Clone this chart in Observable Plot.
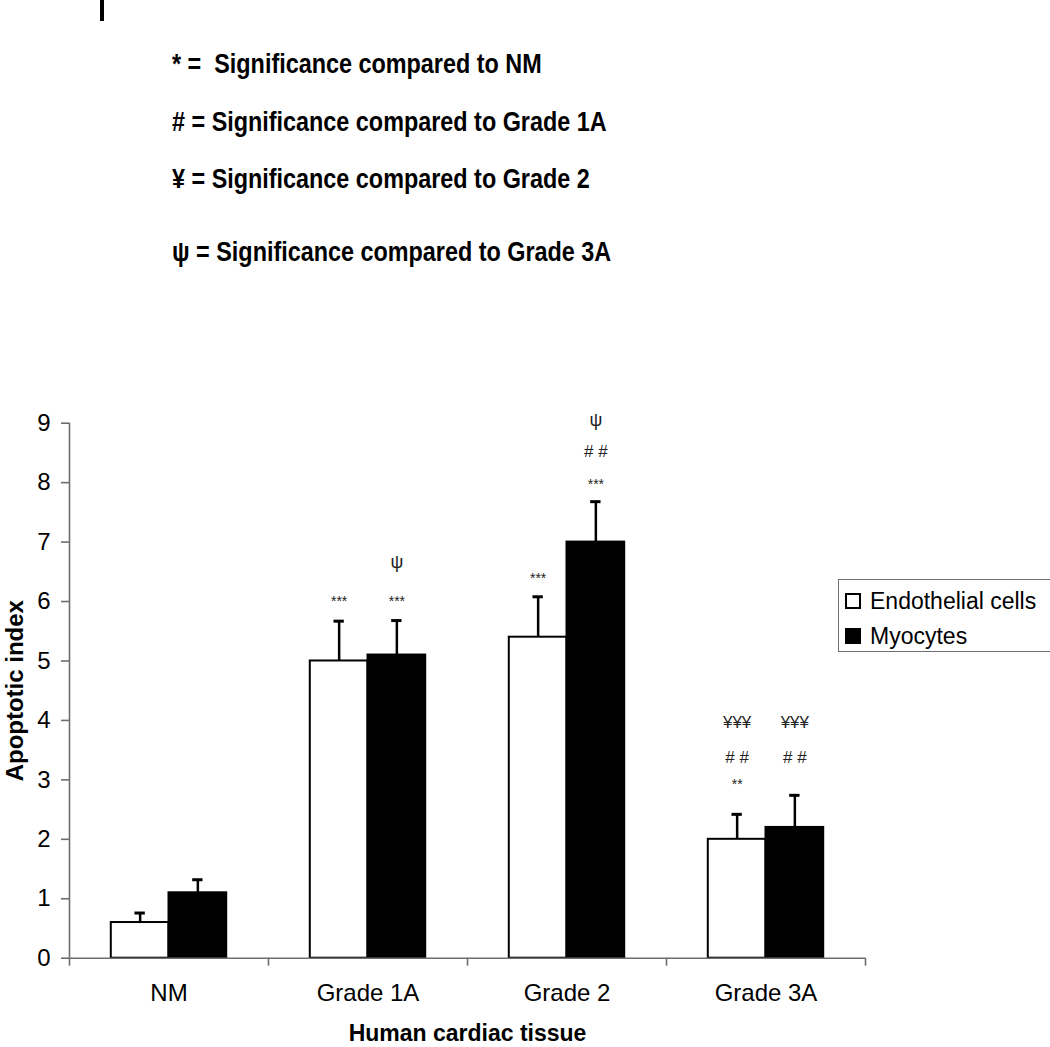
<!DOCTYPE html>
<html>
<head>
<meta charset="utf-8">
<script src="https://cdn.jsdelivr.net/npm/d3@7"></script>
<script src="https://cdn.jsdelivr.net/npm/@observablehq/plot@0.6"></script>
<style>
  html, body { margin: 0; padding: 0; background: #fff; }
  body { font-family: "Liberation Sans", Arial, sans-serif; color: #000; }
  #wrap { position: relative; width: 1050px; height: 1047px; overflow: hidden; background: #fff; }
  #mark { position: absolute; left: 100px; top: 0; width: 4px; height: 21px; background: #000; }
  .key { position: absolute; left: 172px; font-weight: bold; font-size: 28px; line-height: 28px;
         white-space: pre; transform: scaleX(0.835); transform-origin: 0 0; }
  #chart { position: absolute; left: 0; top: 300px; }
  #legend { position: absolute; left: 838px; top: 579px; width: 230px; height: 71px;
            border: 1.5px solid #6e6e6e; background: #fff; }
  .row { position: absolute; left: 6px; height: 26px; display: flex; align-items: center;
         font-size: 23px; white-space: nowrap; }
  .sw { width: 16px; height: 16px; box-sizing: border-box; border: 2px solid #000; margin-right: 9px; }
</style>
</head>
<body>
<div id="wrap">
  <div id="mark"></div>
  <div id="keys"></div>
  <div id="chart"></div>
  <div id="legend"></div>
</div>
<script>
// ---- data ----
const categories = ["NM", "Grade 1A", "Grade 2", "Grade 3A"];
const seriesNames = ["Endothelial cells", "Myocytes"];
const endothelial = [0.6, 5.0, 5.4, 2.0];
const endothelialErr = [0.16, 0.67, 0.68, 0.42];
const myocytes = [1.1, 5.1, 7.0, 2.2];
const myocytesErr = [0.22, 0.58, 0.68, 0.54];
const yTicks = [0, 1, 2, 3, 4, 5, 6, 7, 8, 9];

// significance markers: category index, series index, label, level (y value)
const annCategory = [1, 1, 1, 2, 2, 2, 2, 3, 3, 3, 3, 3];
const annSeries   = [0, 1, 1, 0, 1, 1, 1, 0, 0, 0, 1, 1];
const annLabel    = ["***", "***", "ψ", "***", "***", "# #", "ψ", "**", "# #", "¥¥¥", "# #", "¥¥¥"];
const annLevel    = [6.0, 6.0, 6.66, 6.39, 7.97, 8.52, 9.05, 2.92, 3.38, 3.97, 3.38, 3.97];

const keyLines = [
  "* =  Significance compared to NM",
  "# = Significance compared to Grade 1A",
  "¥ = Significance compared to Grade 2",
  "ψ = Significance compared to Grade 3A"
];
const xTitle = "Human cardiac tissue";
const yTitle = "Apoptotic index";

// ---- header key ----
const keyTops = [50, 108, 165, 238];
const keys = document.getElementById("keys");
keyLines.forEach((t, i) => {
  const d = document.createElement("div");
  d.className = "key";
  d.style.top = keyTops[i] + "px";
  d.textContent = t;
  keys.appendChild(d);
});

// ---- chart ----
const groupInset = 0.21, barW = 0.29, capHalf = 0.026;
const bars = categories.flatMap((c, i) => [
  {i, s: 0, value: endothelial[i], err: endothelialErr[i]},
  {i, s: 1, value: myocytes[i], err: myocytesErr[i]}
]);
const bx1 = d => d.i + groupInset + d.s * barW;
const bx2 = d => bx1(d) + barW;
const bxc = d => bx1(d) + barW / 2;

const anns = annLabel.map((t, k) => ({i: annCategory[k], s: annSeries[k], t, y: annLevel[k]}));
const annSize = t => t.includes("*") ? 14 : t === "ψ" ? 18 : 17;

const axisGray = "#6e6e6e";

const plot = Plot.plot({
  width: 1050,
  height: 747,
  marginLeft: 69,
  marginRight: 185,
  marginTop: 122.7,
  marginBottom: 89.3,
  x: {domain: [0, categories.length]},
  y: {domain: [0, 9]},
  style: {fontFamily: "'Liberation Sans', Arial, sans-serif", color: "#000", background: "#fff", overflow: "visible"},
  marks: [
    Plot.ruleX([0], {stroke: axisGray, strokeWidth: 1.6}),
    Plot.axisY({ticks: yTicks, tickSize: 8, tickPadding: 11, fontSize: 24, stroke: axisGray, strokeWidth: 1.6, fill: "#000", label: null}),
    Plot.axisX({ticks: d3.range(categories.length + 1), tickSize: 8, tickFormat: () => "", stroke: axisGray, strokeWidth: 1.6, label: null}),
    Plot.axisX({ticks: categories.map((_, i) => i + 0.5), tickSize: 0, tickPadding: 26,
                tickFormat: d => categories[Math.floor(d)], fontSize: 24, fill: "#000", label: null}),
    Plot.rect(bars, {x1: bx1, x2: bx2, y1: 0, y2: "value",
                     fill: d => d.s ? "#000" : "#fff", stroke: "#000", strokeWidth: 2}),
    Plot.ruleY([0], {stroke: axisGray, strokeWidth: 1.6}),
    Plot.ruleX(bars, {x: bxc, y1: "value", y2: d => d.value + d.err, stroke: "#000", strokeWidth: 2.5}),
    Plot.ruleY(bars, {y: d => d.value + d.err, x1: d => bxc(d) - capHalf, x2: d => bxc(d) + capHalf,
                      stroke: "#000", strokeWidth: 3}),
    Plot.text(anns, {x: d => d.i + groupInset + d.s * barW + barW / 2, y: "y", text: "t",
                     fontSize: d => annSize(d.t), fill: "#222"}),
    Plot.text([yTitle], {frameAnchor: "left", textAnchor: "middle", rotate: -90, dx: -54,
                         fontSize: 24, fontWeight: "bold", fill: "#000"}),
    Plot.text([xTitle], {frameAnchor: "bottom", dy: 66, lineAnchor: "top", fontSize: 23, fontWeight: "bold", fill: "#000"})
  ]
});
document.getElementById("chart").appendChild(plot);

// ---- series legend ----
const legend = document.getElementById("legend");
const rowTops = [8, 43];
seriesNames.forEach((name, k) => {
  const r = document.createElement("div");
  r.className = "row";
  r.style.top = rowTops[k] + "px";
  const sw = document.createElement("div");
  sw.className = "sw";
  sw.style.background = k ? "#000" : "#fff";
  const tx = document.createElement("span");
  tx.textContent = name;
  r.appendChild(sw);
  r.appendChild(tx);
  legend.appendChild(r);
});
</script>
</body>
</html>
